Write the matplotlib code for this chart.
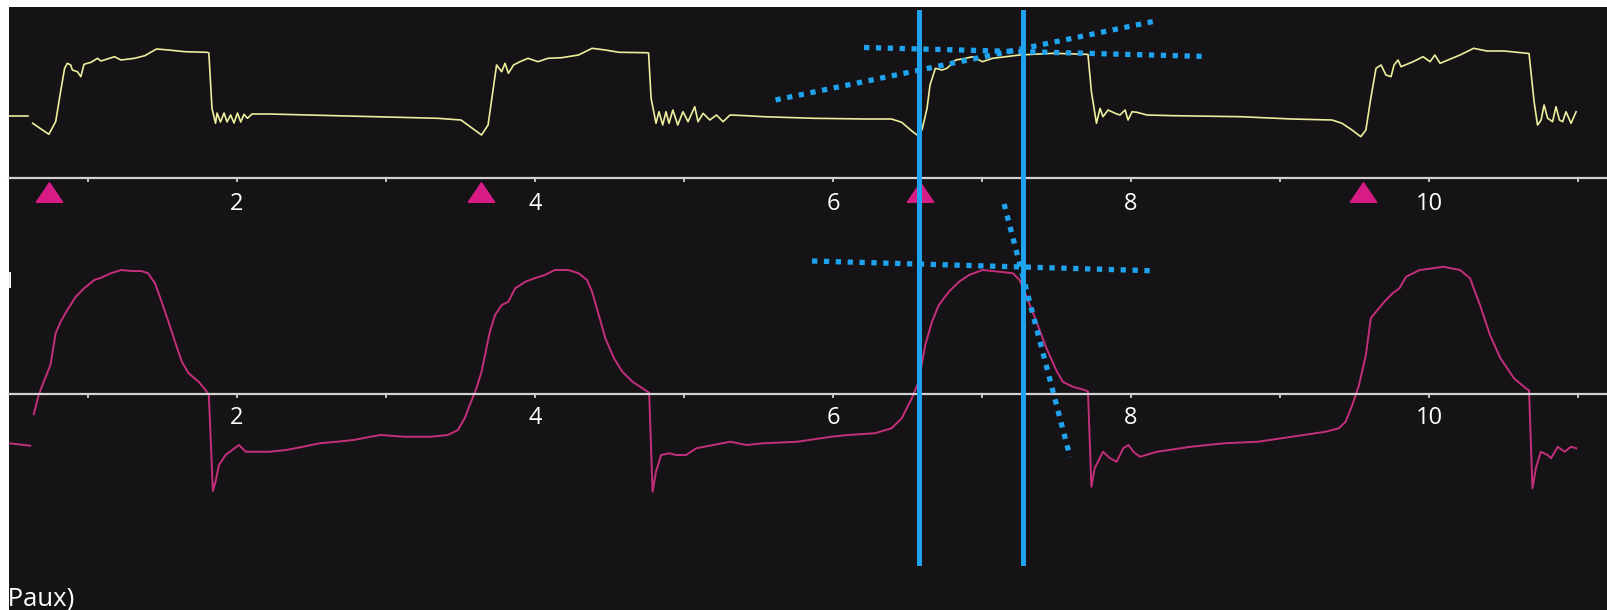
import matplotlib
matplotlib.use("Agg")
import matplotlib.pyplot as plt

# ---------------------------------------------------------------- data
# time axis (s)
tick_major = [2, 4, 6, 8, 10]
tick_minor = [1, 3, 5, 7, 9, 11]
t_range = (0.4698, 11.201)

# airway pressure (upper trace): previous sweep remnant + current sweep
paw_old_t = [0.470, 0.600]
paw_old_v = [6.23, 6.23]
paw_t = [0.629, 0.737, 0.783, 0.816, 0.843, 0.861, 0.884, 0.895, 0.929, 0.952, 0.973, 1.020,
         1.064, 1.087, 1.178, 1.221, 1.313, 1.381, 1.460, 1.540, 1.651, 1.799, 1.811, 1.832,
         1.856, 1.866, 1.889, 1.913, 1.933, 1.957, 1.980, 2.003, 2.025, 2.047, 2.070, 2.101,
         2.215, 2.669, 3.347, 3.503, 3.641, 3.685, 3.732, 3.742, 3.776, 3.799, 3.821, 3.856,
         3.899, 3.953, 4.020, 4.087, 4.179, 4.292, 4.383, 4.472, 4.564, 4.744, 4.762, 4.779,
         4.812, 4.832, 4.857, 4.879, 4.899, 4.925, 4.958, 4.993, 5.027, 5.072, 5.094, 5.128,
         5.173, 5.218, 5.262, 5.309, 5.421, 5.535, 5.872, 6.213, 6.393, 6.461, 6.529, 6.564,
         6.597, 6.631, 6.651, 6.687, 6.732, 6.765, 6.823, 6.891, 6.936, 7.003, 7.071, 7.161,
         7.252, 7.342, 7.477, 7.700, 7.711, 7.734, 7.768, 7.792, 7.812, 7.846, 7.893, 7.926,
         7.960, 7.980, 8.007, 8.040, 8.107, 8.287, 8.738, 9.079, 9.349, 9.416, 9.483, 9.542,
         9.576, 9.609, 9.644, 9.678, 9.711, 9.745, 9.765, 9.792, 9.812, 9.893, 9.960, 10.007,
         10.039, 10.074, 10.208, 10.299, 10.389, 10.503, 10.658, 10.671, 10.705, 10.728, 10.752,
         10.772, 10.796, 10.829, 10.852, 10.875, 10.897, 10.919, 10.953, 10.987]
paw_v = [5.47, 4.37, 5.63, 8.63, 10.97, 11.47, 11.30, 10.80, 10.63, 10.13, 11.37, 11.57,
         11.97, 11.70, 12.13, 11.80, 11.97, 12.23, 12.90, 12.80, 12.63, 12.57, 12.50, 6.97,
         5.47, 6.50, 5.60, 6.50, 5.60, 6.30, 5.50, 6.50, 5.60, 6.37, 5.97, 6.40,
         6.40, 6.23, 5.97, 5.80, 4.30, 5.30, 10.30, 11.30, 10.63, 11.47, 10.47, 11.30,
         11.63, 11.97, 11.63, 11.97, 12.03, 12.30, 12.97, 12.80, 12.57, 12.53, 12.50, 7.97,
         5.47, 6.63, 5.30, 6.63, 5.47, 6.80, 5.30, 6.63, 5.63, 7.13, 5.63, 6.47,
         5.80, 6.30, 5.63, 6.30, 6.23, 6.13, 5.97, 5.90, 5.90, 5.57, 4.70, 4.30,
         4.80, 6.97, 9.30, 10.97, 10.80, 10.97, 11.80, 11.97, 12.13, 11.63, 11.97, 12.13,
         12.30, 12.37, 12.47, 12.37, 12.35, 8.63, 5.47, 6.97, 6.13, 6.80, 6.47, 6.30,
         6.80, 5.80, 6.63, 6.57, 6.30, 6.23, 6.13, 5.90, 5.80, 5.47, 4.80, 4.13,
         4.80, 7.97, 10.97, 11.30, 10.30, 10.13, 11.30, 11.80, 11.13, 11.63, 12.13, 11.63,
         12.30, 11.47, 12.30, 12.97, 12.70, 12.70, 12.47, 12.45, 7.63, 5.30, 5.80,
         7.30, 5.97, 5.63, 7.13, 5.80, 5.63, 6.63, 5.47, 6.63]

# flow (lower trace): previous sweep remnant + current sweep
flow_old_t = [0.470, 0.613]
flow_old_v = [-19.7, -20.7]
flow_t = [0.636, 0.669, 0.703, 0.748, 0.783, 0.816, 0.861, 0.918, 0.974, 1.042, 1.087, 1.154,
          1.223, 1.291, 1.358, 1.403, 1.450, 1.494, 1.540, 1.584, 1.630, 1.675, 1.743, 1.788,
          1.811, 1.828, 1.838, 1.856, 1.879, 1.923, 1.968, 2.013, 2.059, 2.128, 2.217, 2.330,
          2.443, 2.556, 2.669, 2.782, 2.895, 2.963, 3.121, 3.302, 3.415, 3.483, 3.528, 3.562,
          3.607, 3.641, 3.674, 3.697, 3.732, 3.777, 3.821, 3.867, 3.935, 3.998, 4.066, 4.134,
          4.224, 4.292, 4.349, 4.383, 4.428, 4.472, 4.530, 4.586, 4.654, 4.721, 4.755, 4.766,
          4.789, 4.812, 4.846, 4.902, 4.946, 5.013, 5.083, 5.195, 5.309, 5.421, 5.535, 5.761,
          5.987, 6.100, 6.281, 6.393, 6.461, 6.529, 6.574, 6.619, 6.664, 6.710, 6.777, 6.846,
          6.913, 7.003, 7.117, 7.207, 7.252, 7.295, 7.365, 7.433, 7.497, 7.542, 7.609, 7.689,
          7.711, 7.734, 7.756, 7.812, 7.859, 7.903, 7.948, 7.983, 8.016, 8.060, 8.174, 8.401,
          8.627, 8.852, 9.079, 9.305, 9.395, 9.440, 9.485, 9.530, 9.576, 9.609, 9.644, 9.700,
          9.756, 9.801, 9.846, 9.937, 10.027, 10.095, 10.208, 10.275, 10.342, 10.409, 10.479,
          10.570, 10.649, 10.671, 10.694, 10.717, 10.750, 10.796, 10.819, 10.864, 10.909,
          10.953, 10.988]
flow_v = [-8.1, -0.4, 4.9, 11.6, 24.3, 28.9, 33.6, 38.9, 42.3, 45.6, 46.5, 48.3,
          49.6, 49.2, 49.2, 48.3, 44.3, 36.9, 28.9, 20.9, 12.9, 8.3, 4.9, 1.6,
          -0.4, -24.4, -38.8, -35.1, -28.4, -24.4, -22.4, -20.4, -23.1, -23.1, -23.1, -22.4,
          -21.1, -19.7, -19.1, -18.4, -17.1, -16.4, -17.1, -17.1, -16.4, -14.4, -9.7, -4.4,
          2.3, 8.9, 18.3, 24.9, 31.6, 35.6, 36.9, 42.3, 44.9, 46.3, 47.6, 49.6,
          49.6, 48.3, 45.6, 40.9, 31.6, 22.3, 14.3, 8.9, 4.9, 2.3, 0.9, 0.5,
          -39.1, -31.1, -24.4, -23.7, -24.4, -24.4, -21.7, -20.4, -19.1, -20.4, -19.7, -19.1,
          -17.1, -16.4, -15.7, -13.7, -9.7, -1.7, 4.9, 19.6, 28.9, 35.6, 40.9, 44.9,
          47.6, 49.6, 48.9, 48.3, 45.6, 39.6, 28.9, 18.3, 9.6, 4.9, 2.9, 1.6,
          1.0, -37.1, -29.7, -23.1, -25.7, -27.1, -21.7, -20.4, -23.1, -25.1, -23.1, -21.1,
          -19.7, -19.1, -17.1, -15.1, -13.7, -11.1, -4.4, 3.6, 15.6, 30.3, 32.9, 36.9,
          40.3, 42.3, 46.9, 49.6, 50.3, 50.9, 49.6, 46.3, 35.6, 23.6, 14.3,
          6.3, 2.3, 1.5, -37.7, -29.7, -23.1, -24.4, -25.7, -21.1, -23.1,
          -21.1, -21.7]

# breath-trigger markers (s)
trigger_t = [0.737, 3.638, 6.584, 9.557]

# measurement cursors (s)
cursor_t = [6.577, 7.275]

# tangent guides: (t0, v0, t1, v1)
paw_guides = [(6.208, 13.05, 8.517, 12.15),
              (5.614, 7.80, 8.174, 15.73)]
flow_guides = [(5.859, 53.2, 8.152, 49.3),
               (7.148, 76.0, 7.591, -25.2)]

# ---------------------------------------------------------------- style
BG = "#161317"
AXIS = "#d2d2d2"
YELLOW = "#eeee9c"
MAGENTA = "#c42f7b"
MARKER = "#d81c86"
BLUE = "#1fa3ef"
FONT = ["Open Sans", "DejaVu Sans"]

W, H = 1608, 610
X0, Y_TOP, Y_SPLIT = 9, 7, 178          # frame left edge, frame top, panel split (px)
fig = plt.figure(figsize=(W / 100, H / 100), dpi=100)
fig.patch.set_facecolor("white")

left = X0 / W
width = 1 - left
frame_h = (H - Y_TOP) / H
split = (H - Y_SPLIT) / H

bg = fig.add_axes([left, 0, width, frame_h], zorder=0)
bg.set_facecolor(BG)
bg.set_xticks([])
bg.set_yticks([])
for s in bg.spines.values():
    s.set_visible(False)

ax_p = fig.add_axes([left, split, width, (Y_SPLIT - Y_TOP) / H], zorder=1)
ax_f = fig.add_axes([left, 0, width, split], zorder=1)
ov = fig.add_axes([left, 0, width, frame_h], zorder=3)

for ax in (ax_p, ax_f, ov):
    ax.set_facecolor("none")
    ax.set_xlim(*t_range)
    for s in ax.spines.values():
        s.set_visible(False)
    ax.set_yticks([])

ax_p.set_ylim(0, 17.1)
ax_f.set_ylim(-86.4, 86.4)
ov.set_ylim(0, 1)
ov.set_xticks([])

for ax, pad in ((ax_p, 7.0), (ax_f, 6.0)):
    sp = ax.spines["bottom"]
    sp.set_visible(True)
    sp.set_position(("data", 0))
    sp.set_color(AXIS)
    sp.set_linewidth(1.6)
    ax.set_xticks(tick_major)
    ax.set_xticks(tick_minor, minor=True)
    ax.set_xticklabels([str(v) for v in tick_major])
    ax.tick_params(axis="x", which="both", direction="out", length=3, width=1.3,
                   color=AXIS, labelcolor="white", labelsize=17, pad=pad)
    for lab in ax.get_xticklabels():
        lab.set_family(FONT)

# traces
ax_p.plot(paw_old_t, paw_old_v, color=YELLOW, lw=1.2)
ax_p.plot(paw_t, paw_v, color=YELLOW, lw=1.2)
ax_f.plot(flow_old_t, flow_old_v, color=MAGENTA, lw=1.4)
ax_f.plot(flow_t, flow_v, color=MAGENTA, lw=1.4)

# trigger markers just under the pressure axis
tri = [(-1, -0.74), (1, -0.74), (0, 0.74), (-1, -0.74)]
ax_p.plot(trigger_t, [-1.4] * len(trigger_t), ls="none", marker=tri, ms=19,
          color=MARKER, mec=MARKER, clip_on=False, zorder=4)

# tangent guides
dot_style = dict(color=BLUE, lw=3.8, linestyle=(0, (1, 1.25)), dash_capstyle="butt",
                 zorder=5)
for t0, v0, t1, v1 in paw_guides:
    ax_p.plot([t0, t1], [v0, v1], **dot_style)
for t0, v0, t1, v1 in flow_guides:
    ax_f.plot([t0, t1], [v0, v1], **dot_style, clip_on=False)

# cursors
for tc in cursor_t:
    ov.axvline(tc, ymin=(H - 563) / (H - Y_TOP), ymax=(H - 12) / (H - Y_TOP),
               color=BLUE, lw=3.6)

# channel labels at the left edge, cut by the frame
fw = W - X0
ov.text((13.5 - X0) / fw, (H - 288) / (H - Y_TOP), "I", transform=ov.transAxes,
        ha="right", va="baseline", color="white", fontsize=16, family=FONT, clip_on=True)
ov.text((74 - X0) / fw, (H - 606) / (H - Y_TOP), "(Paux)", transform=ov.transAxes,
        ha="right", va="baseline", color="white", fontsize=18.5, family=FONT, clip_on=True)

fig.savefig("out.png", dpi=100, facecolor=fig.get_facecolor())
